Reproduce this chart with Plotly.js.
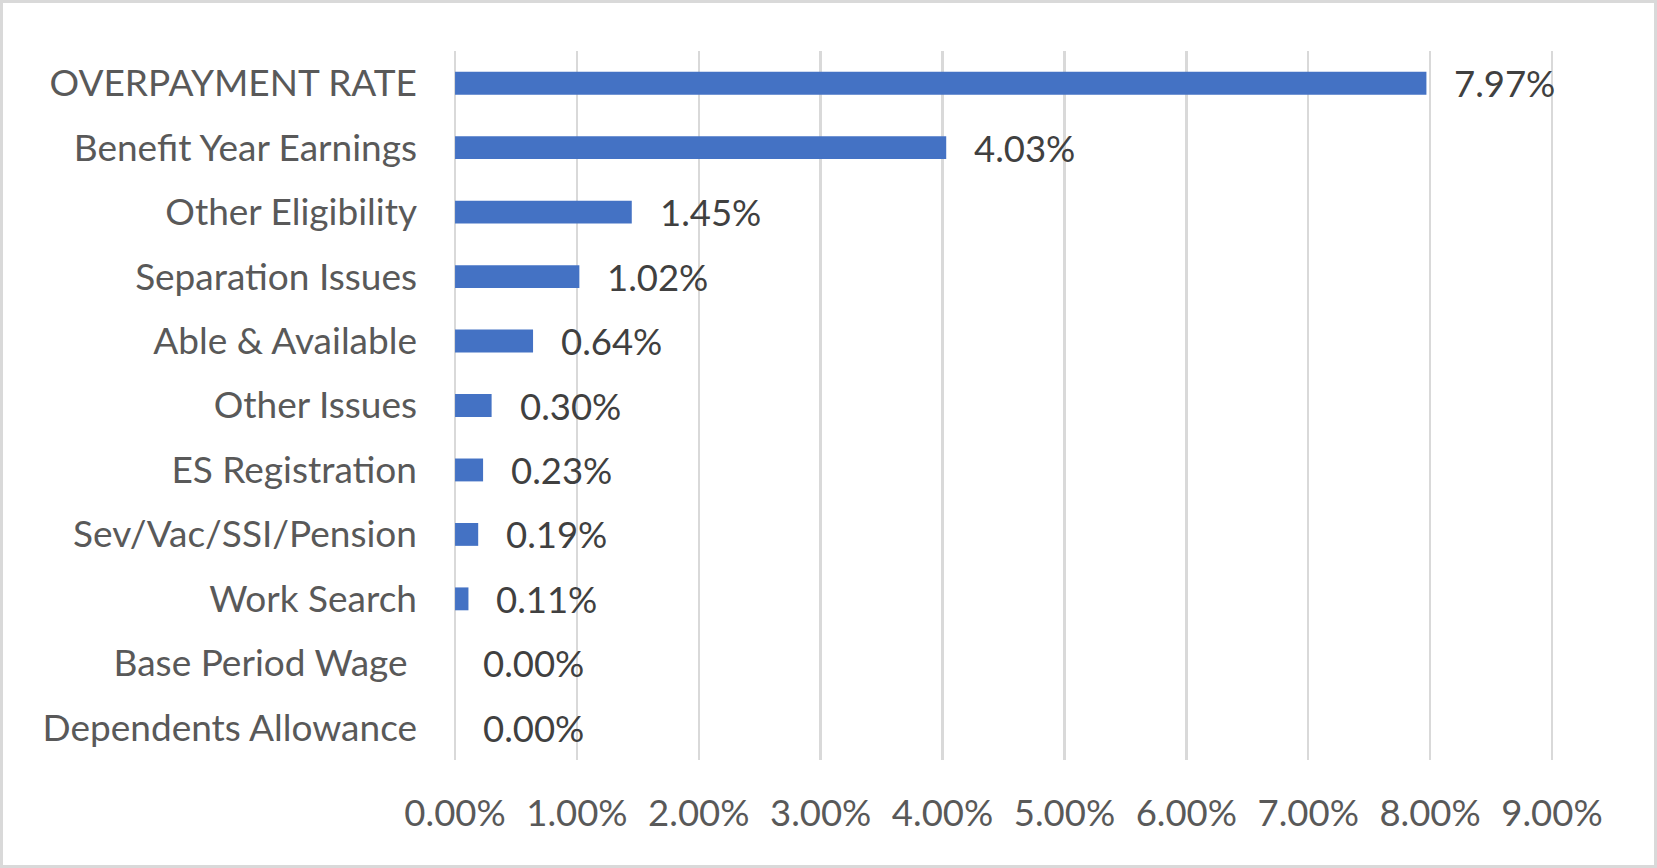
<!DOCTYPE html>
<html>
<head>
<meta charset="utf-8">
<script src="https://cdn.plot.ly/plotly-3.0.1.min.js"></script>
<style>
  html, body { margin: 0; padding: 0; background: #ffffff; }
  #chart { position: absolute; left: 0; top: 0; width: 1657px; height: 868px; }
  #frame { position: absolute; left: 0; top: 0; width: 1657px; height: 868px; box-sizing: border-box; border: 3px solid #d9d9d9; pointer-events: none; }
</style>
</head>
<body>
<div id="chart"></div>
<div id="frame"></div>
<script>
// Categories listed top to bottom
const categories = [
  "OVERPAYMENT RATE",
  "Benefit Year Earnings",
  "Other Eligibility",
  "Separation Issues",
  "Able & Available",
  "Other Issues",
  "ES Registration",
  "Sev/Vac/SSI/Pension",
  "Work Search",
  "Base Period Wage ",
  "Dependents Allowance"
];
const rates = [0.0797, 0.0403, 0.0145, 0.0102, 0.0064, 0.0030, 0.0023, 0.0019, 0.0011, 0.0000, 0.0000];
const tickValues = [0, 0.01, 0.02, 0.03, 0.04, 0.05, 0.06, 0.07, 0.08, 0.09];
const tickLabels = ["0.00%", "1.00%", "2.00%", "3.00%", "4.00%", "5.00%", "6.00%", "7.00%", "8.00%", "9.00%"];

const FONT = "Lato, 'Open Sans', sans-serif";

const trace = {
  type: "bar",
  orientation: "h",
  x: rates,
  y: categories,
  marker: { color: "#4472C4" },
  hoverinfo: "skip"
};

const annotations = rates.map((v, i) => ({
  x: v,
  y: categories[i],
  xref: "x",
  yref: "y",
  text: (v * 100).toFixed(2) + "%",
  showarrow: false,
  xanchor: "left",
  yanchor: "middle",
  xshift: 26,
  font: { family: FONT, size: 36.5, color: "#404040" }
}));

const layout = {
  width: 1657,
  height: 868,
  margin: { l: 452, r: 102, t: 51, b: 108, pad: 0 },
  paper_bgcolor: "#ffffff",
  plot_bgcolor: "#ffffff",
  showlegend: false,
  bargap: 0.645,
  font: { family: FONT, color: "#595959" },
  xaxis: {
    range: [-0.00025, 0.09025],
    tickvals: tickValues,
    ticktext: tickLabels,
    showgrid: true,
    gridcolor: "#d9d9d9",
    gridwidth: 2.5,
    zeroline: false,
    showline: false,
    ticks: "",
    ticklabelstandoff: 28,
    tickfont: { family: FONT, size: 36.5, color: "#595959" },
    fixedrange: true
  },
  yaxis: {
    type: "category",
    autorange: "reversed",
    showgrid: false,
    zeroline: false,
    showline: false,
    ticks: "",
    ticklabelstandoff: 34,
    tickfont: { family: FONT, size: 37, color: "#595959" },
    fixedrange: true
  },
  annotations: annotations
};

Plotly.newPlot("chart", [trace], layout, { displayModeBar: false, staticPlot: true });
</script>
</body>
</html>
